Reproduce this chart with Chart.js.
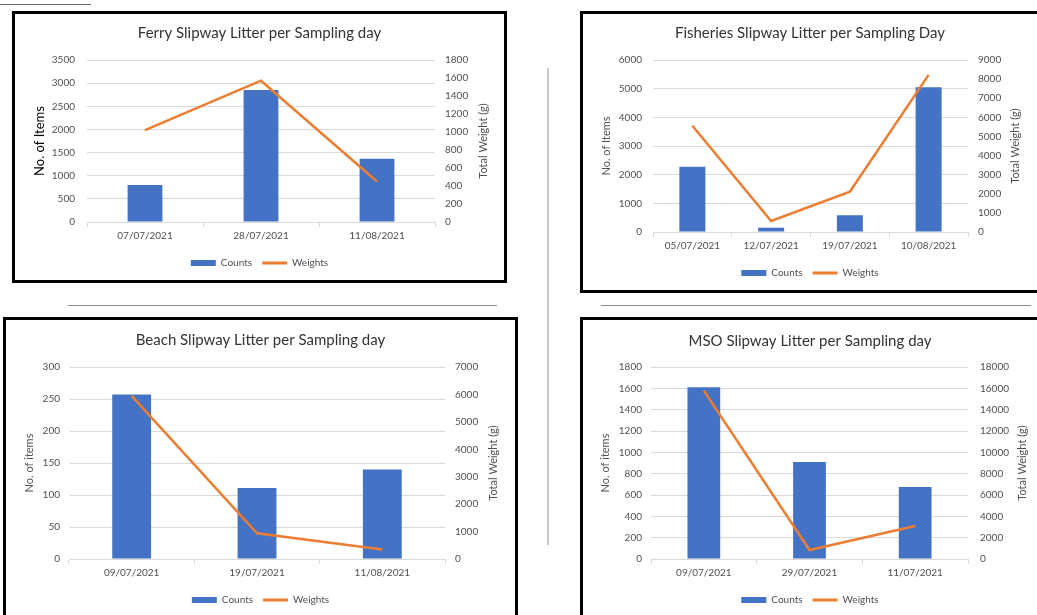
<!DOCTYPE html>
<html>
<head>
<meta charset="utf-8">
<script src="https://cdn.jsdelivr.net/npm/chart.js@4.4.1/dist/chart.umd.min.js"></script>
<style>
  html, body { margin: 0; padding: 0; background: #fff; }
  body { width: 1037px; height: 615px; position: relative; overflow: hidden; font-family: Lato, sans-serif; }
  .box { position: absolute; border: 3px solid #000; box-sizing: border-box; }
  .rule { position: absolute; }
  .wrap { position: absolute; }
</style>
</head>
<body>
<!-- page furniture around the four charts -->
<div class="rule" style="left:0;top:4px;width:91px;height:1px;background:#6e6e6e"></div>
<div class="rule" style="left:547px;top:68px;width:2px;height:477px;background:#c8c8c8"></div>
<div class="rule" style="left:68px;top:305px;width:429px;height:1px;background:#8a8a8a"></div>
<div class="rule" style="left:601px;top:305px;width:430px;height:1px;background:#8a8a8a"></div>

<div class="box" style="left:12px;top:11px;width:495px;height:272px"></div>
<div class="box" style="left:580px;top:11px;width:470px;height:282px"></div>
<div class="box" style="left:3px;top:317px;width:515px;height:310px"></div>
<div class="box" style="left:580px;top:317px;width:470px;height:310px"></div>

<div class="wrap" style="left:15px;top:14px"><canvas id="ferry" width="489" height="266"></canvas></div>
<div class="wrap" style="left:583px;top:14px"><canvas id="fisheries" width="454" height="276"></canvas></div>
<div class="wrap" style="left:6px;top:320px"><canvas id="beach" width="509" height="295"></canvas></div>
<div class="wrap" style="left:583px;top:320px"><canvas id="mso" width="454" height="295"></canvas></div>

<script>
// Data
const ferryDates = ['07/07/2021', '28/07/2021', '11/08/2021'];
const ferryCounts = [800, 2850, 1365];
const ferryWeights = [1020, 1570, 450];
const ferryCountAxis = [0, 3500, 500];
const ferryWeightAxis = [0, 1800, 200];

const fisheriesDates = ['05/07/2021', '12/07/2021', '19/07/2021', '10/08/2021'];
const fisheriesCounts = [2280, 150, 585, 5050];
const fisheriesWeights = [5560, 575, 2110, 8220];
const fisheriesCountAxis = [0, 6000, 1000];
const fisheriesWeightAxis = [0, 9000, 1000];

const beachDates = ['09/07/2021', '19/07/2021', '11/08/2021'];
const beachCounts = [257, 111, 140];
const beachWeights = [5950, 935, 350];
const beachCountAxis = [0, 300, 50];
const beachWeightAxis = [0, 7000, 1000];

const msoDates = ['09/07/2021', '29/07/2021', '11/07/2021'];
const msoCounts = [1610, 910, 675];
const msoWeights = [15780, 845, 3100];
const msoCountAxis = [0, 1800, 200];
const msoWeightAxis = [0, 18000, 2000];

const BLUE = '#4472C4';
const ORANGE = '#ED7D31';
const GRID = '#d9d9d9';
const TXT = '#505050';
const FONT = 'Lato, "Open Sans", sans-serif';

// right axis title reads bottom-to-top, like the original
const rightTitle = {
    id: 'rightTitle',
    afterDraw(chart, args, opts) {
        const s = chart.scales.y1;
        const area = chart.chartArea;
        const ctx = chart.ctx;
        ctx.save();
        ctx.translate(s.right - opts.offset, (area.top + area.bottom) / 2);
        ctx.rotate(-Math.PI / 2);
        ctx.font = '11px ' + FONT;
        ctx.fillStyle = TXT;
        ctx.textAlign = 'center';
        ctx.textBaseline = 'middle';
        ctx.fillText(opts.text, 0, 0);
        ctx.restore();
    }
};

// plain numbers, no thousands separator
const plain = v => String(v);

function makeChart(id, p) {
    const ctx = document.getElementById(id);
    return new Chart(ctx, {
        type: 'bar',
        data: {
            labels: p.labels,
            datasets: [
                {
                    type: 'bar', label: 'Counts', data: p.counts, yAxisID: 'y',
                    backgroundColor: BLUE, borderWidth: 0, pointStyle: 'rect',
                    barPercentage: p.barPct, categoryPercentage: 1, order: 1
                },
                {
                    type: 'line', label: 'Weights', data: p.weights, yAxisID: 'y1',
                    borderColor: ORANGE, backgroundColor: ORANGE, borderWidth: 2.5,
                    pointRadius: 0, pointHoverRadius: 0, pointStyle: 'line',
                    pointBorderColor: ORANGE, pointBorderWidth: 3, tension: 0, order: 0
                }
            ]
        },
        options: {
            responsive: false,
            animation: false,
            layout: { autoPadding: false, padding: { left: 0, right: 0, top: 0, bottom: p.padB } },
            plugins: {
                tooltip: { enabled: false },
                title: {
                    display: true, text: p.title, color: '#333',
                    font: { family: FONT, size: 15, weight: 'normal' },
                    padding: { top: p.t1, bottom: p.t2 }
                },
                legend: {
                    position: 'bottom',
                    labels: {
                        usePointStyle: true, pointStyleWidth: 25, boxHeight: 6,
                        color: TXT, font: { family: FONT, size: 10 }, padding: 10,
                        sort: (a, b) => a.datasetIndex - b.datasetIndex
                    }
                },
                rightTitle: { text: 'Total Weight (g)', offset: p.rTitleOff }
            },
            scales: {
                x: {
                    offset: true,
                    grid: { offset: true, drawOnChartArea: false, tickLength: 5, color: GRID },
                    border: { color: GRID },
                    ticks: { color: TXT, font: { family: FONT, size: 10 }, padding: 3, maxRotation: 0 },
                    afterFit: s => { s.height = p.xH; }
                },
                y: {
                    position: 'left', min: p.countAxis[0], max: p.countAxis[1],
                    ticks: { stepSize: p.countAxis[2], autoSkip: false, callback: plain, color: TXT, font: { family: FONT, size: 10 }, padding: p.lPad },
                    grid: { color: GRID, drawTicks: false },
                    border: { display: false },
                    title: {
                        display: true, text: p.leftTitle, color: p.lTitleColor,
                        font: { family: FONT, size: p.lTitleSize },
                        padding: { top: p.lTitlePad, bottom: 0 }
                    },
                    afterFit: s => { s.width = p.yW; }
                },
                y1: {
                    position: 'right', min: p.weightAxis[0], max: p.weightAxis[1],
                    ticks: { stepSize: p.weightAxis[2], autoSkip: false, callback: plain, color: TXT, font: { family: FONT, size: 10 }, padding: p.rPad },
                    grid: { drawOnChartArea: false, drawTicks: false },
                    border: { display: false },
                    afterFit: s => { s.width = p.y1W; }
                }
            }
        },
        plugins: [rightTitle]
    });
}

makeChart('ferry', {
    title: 'Ferry Slipway Litter per Sampling day',
    labels: ferryDates, counts: ferryCounts, weights: ferryWeights,
    countAxis: ferryCountAxis, weightAxis: ferryWeightAxis,
    leftTitle: 'No. of Items', lTitleColor: '#000', lTitleSize: 13,
    yW: 72, y1W: 69, t1: 10, t2: 18, padB: 2, xH: 26,
    lPad: 12, rPad: 10, lTitlePad: 17, rTitleOff: 21, barPct: 0.30
});

makeChart('fisheries', {
    title: 'Fisheries Slipway Litter per Sampling Day',
    labels: fisheriesDates, counts: fisheriesCounts, weights: fisheriesWeights,
    countAxis: fisheriesCountAxis, weightAxis: fisheriesWeightAxis,
    leftTitle: 'No. of Items', lTitleColor: TXT, lTitleSize: 11,
    yW: 70, y1W: 69, t1: 10, t2: 18, padB: 2, xH: 26,
    lPad: 11, rPad: 10, lTitlePad: 17, rTitleOff: 22, barPct: 0.33
});

makeChart('beach', {
    title: 'Beach Slipway Litter per Sampling day',
    labels: beachDates, counts: beachCounts, weights: beachWeights,
    countAxis: beachCountAxis, weightAxis: beachWeightAxis,
    leftTitle: 'No. of items', lTitleColor: TXT, lTitleSize: 11,
    yW: 63, y1W: 70, t1: 11, t2: 18, padB: 0, xH: 26,
    lPad: 9, rPad: 10, lTitlePad: 17, rTitleOff: 22, barPct: 0.31
});

makeChart('mso', {
    title: 'MSO Slipway Litter per Sampling day',
    labels: msoDates, counts: msoCounts, weights: msoWeights,
    countAxis: msoCountAxis, weightAxis: msoWeightAxis,
    leftTitle: 'No. of items', lTitleColor: TXT, lTitleSize: 11,
    yW: 68, y1W: 69, t1: 12, t2: 17, padB: 0, xH: 26,
    lPad: 9, rPad: 12, lTitlePad: 16, rTitleOff: 15, barPct: 0.31
});
</script>
</body>
</html>
